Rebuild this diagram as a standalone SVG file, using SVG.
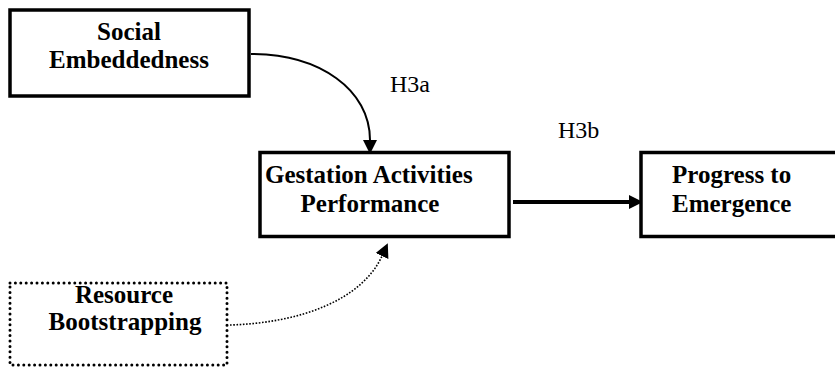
<svg xmlns="http://www.w3.org/2000/svg" width="835" height="368" viewBox="0 0 835 368">
<style>
.box{fill:#fff;stroke:#000;stroke-width:3.5}
.dotbox{fill:#fff;stroke:#000;stroke-width:3;stroke-dasharray:0 5.4;stroke-linecap:round}
.t{font-family:"Liberation Serif","Times New Roman",serif;font-weight:bold;font-size:25px;fill:#000}
.lbl{font-family:"Liberation Serif","Times New Roman",serif;font-size:24px;fill:#000}
.c{text-anchor:middle}
</style>
<defs>
<marker id="ah" markerUnits="userSpaceOnUse" markerWidth="14" markerHeight="14" viewBox="0 0 14 14" refX="0" refY="7" orient="auto">
<path d="M0,0 L14,7 L0,14 z" fill="#000"/>
</marker>
</defs>
<rect width="835" height="368" fill="#fff"/>
<g id="connectors" fill="none" stroke="#000">
<path id="e1" d="M251,54 C320,54 370,90 370,140" stroke-width="2" marker-end="url(#ah)"/>
<path id="e2" d="M513,202 L629,202" stroke-width="4" marker-end="url(#ah)"/>
<path id="e3" d="M230,325 C300,323 362,300 382,256" stroke-width="1.6" stroke-dasharray="1.6 1.6" marker-end="url(#ah)"/>
</g>
<g id="social">
<rect class="box" x="10" y="10" width="239" height="86"/>
<text class="t c" x="129" y="40">Social</text>
<text class="t c" x="129" y="68">Embeddedness</text>
</g>
<g id="gestation">
<rect class="box" x="260" y="152.5" width="249" height="84"/>
<text class="t" x="265" y="183">Gestation Activities</text>
<text class="t c" x="370" y="212">Performance</text>
</g>
<g id="progress">
<rect class="box" x="641" y="152.5" width="210" height="84"/>
<text class="t" x="672" y="183">Progress to</text>
<text class="t" x="672" y="212">Emergence</text>
</g>
<g id="resource">
<rect class="dotbox" x="10" y="283" width="217" height="82"/>
<text class="t c" x="124" y="303">Resource</text>
<text class="t c" x="125" y="330">Bootstrapping</text>
</g>
<g id="labels">
<text class="lbl" x="390" y="92">H3a</text>
<text class="lbl" x="558" y="138">H3b</text>
</g>
</svg>
